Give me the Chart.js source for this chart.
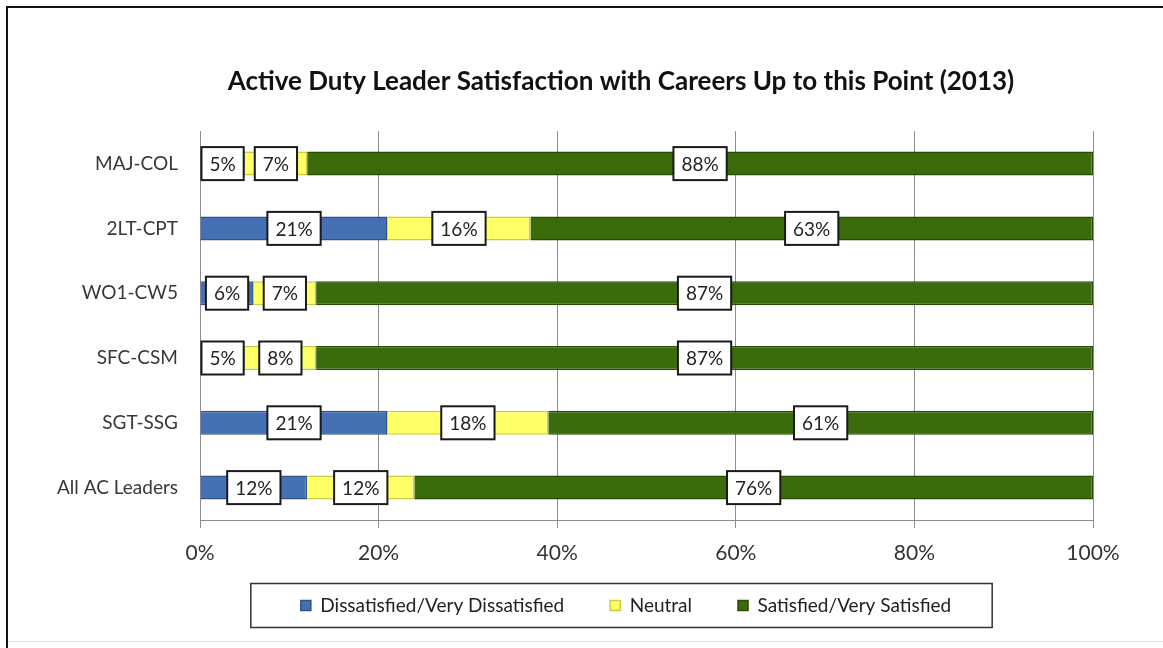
<!DOCTYPE html>
<html>
<head>
<meta charset="utf-8">
<script src="https://cdn.jsdelivr.net/npm/chart.js@4"></script>
<style>
  body { margin: 0; background: #fff; }
  #wrap { position: relative; width: 1163px; height: 648px; overflow: hidden; }
  #frame { position: absolute; left: 6px; top: 6px; width: 1300px; height: 700px;
           border-left: 2px solid #111; border-top: 2px solid #111; }
  #shadow { position: absolute; left: 8px; top: 641px; width: 1200px; height: 1px; background: #e2e2e2; }
  canvas { position: absolute; left: 0; top: 0; }
</style>
</head>
<body>
<div id="wrap">
  <div id="frame"></div>
  <div id="shadow"></div>
  <canvas id="surveyChart" width="1163" height="648"></canvas>
</div>
<script>
// categories and values (percent)
const groups = ["MAJ-COL", "2LT-CPT", "WO1-CW5", "SFC-CSM", "SGT-SSG", "All AC Leaders"];
const dissatisfied = [5, 21, 6, 5, 21, 12];
const neutral = [7, 16, 7, 8, 18, 12];
const satisfied = [88, 63, 87, 87, 61, 76];
const xTicks = [0, 20, 40, 60, 80, 100];

const FONT = "Lato, 'Open Sans', sans-serif";

// white boxes with the % value in the middle of each segment
const valueBoxes = {
  id: "valueBoxes",
  afterDatasetsDraw(chart) {
    const ctx = chart.ctx;
    ctx.save();
    ctx.font = "19px " + FONT;
    ctx.textAlign = "center";
    ctx.textBaseline = "middle";
    chart.data.datasets.forEach((ds, i) => {
      chart.getDatasetMeta(i).data.forEach((bar, j) => {
        const text = ds.data[j] + "%";
        const p = bar.getProps(["x", "y", "base"], true);
        const cx = (p.x + p.base) / 2;
        const w = ctx.measureText(text).width + 16;
        const h = 33;
        ctx.fillStyle = "#fff";
        ctx.fillRect(cx - w / 2, p.y - h / 2, w, h);
        ctx.lineWidth = 2;
        ctx.strokeStyle = "#1a1a1a";
        ctx.strokeRect(cx - w / 2, p.y - h / 2, w, h);
        ctx.fillStyle = "#222";
        ctx.fillText(text, cx, p.y + 1);
      });
    });
    ctx.restore();
  },
};

// the title and legend are centred a bit right of the page centre,
// and the legend sits a little higher than chart.js would put it
const shiftBlocks = {
  id: "shiftBlocks",
  afterLayout(chart) {
    chart.titleBlock.left = 149;
    const lg = chart.legend;
    lg.left = 159;
    const h = lg.bottom - lg.top;
    lg.top = 550;
    lg.bottom = lg.top + h;
  },
};

// frame around the legend
const legendFrame = {
  id: "legendFrame",
  afterDraw(chart) {
    const boxes = chart.legend.legendHitBoxes;
    if (!boxes || !boxes.length) return;
    const first = boxes[0];
    const last = boxes[boxes.length - 1];
    const left = first.left - 50;
    const right = last.left + last.width + 41;
    const cy = first.top + first.height / 2;
    const ctx = chart.ctx;
    ctx.save();
    ctx.lineWidth = 1.5;
    ctx.strokeStyle = "#333";
    ctx.strokeRect(left, cy - 22, right - left, 44);
    ctx.restore();
  },
};

const config = {
  type: "bar",
  data: {
    labels: groups,
    datasets: [
      {
        label: "Dissatisfied/Very Dissatisfied",
        data: dissatisfied,
        backgroundColor: "#4670b4",
        borderColor: "#2f5287",
        borderWidth: 1.5,
      },
      {
        label: "Neutral",
        data: neutral,
        backgroundColor: "#ffff66",
        borderColor: "#cccc44",
        borderWidth: 1.5,
      },
      {
        label: "Satisfied/Very Satisfied",
        data: satisfied,
        backgroundColor: "#3b6b0b",
        borderColor: "#274d04",
        borderWidth: 1.5,
      },
    ],
  },
  options: {
    indexAxis: "y",
    responsive: false,
    animation: false,
    categoryPercentage: 0.5,
    barPercentage: 0.74,
    layout: { padding: { left: 0, right: 70, top: 0, bottom: 1 } },
    scales: {
      x: {
        stacked: true,
        min: 0,
        max: 100,
        afterBuildTicks: (axis) => {
          axis.ticks = xTicks.map((v) => ({ value: v }));
        },
        ticks: {
          callback: (v) => v + "%",
          font: { family: FONT, size: 21 },
          color: "#333",
          padding: 13,
          maxRotation: 0,
        },
        grid: { color: "#8c8c8c", tickLength: 8, drawTicks: true },
        border: { color: "#8c8c8c" },
        afterFit: (axis) => { axis.height = 52; },
      },
      y: {
        stacked: true,
        ticks: {
          font: { family: FONT, size: 19 },
          color: "#383838",
          padding: 22,
        },
        grid: { display: false, drawTicks: false },
        border: { color: "#8c8c8c" },
        afterFit: (axis) => { axis.width = 200; },
      },
    },
    plugins: {
      title: {
        display: true,
        text: "Active Duty Leader Satisfaction with Careers Up to this Point (2013)",
        font: { family: FONT, size: 26, weight: "bold" },
        color: "#111",
        padding: { top: 66, bottom: 34 },
      },
      legend: {
        position: "bottom",
        labels: {
          font: { family: FONT, size: 19 },
          color: "#222",
          boxWidth: 10,
          boxHeight: 10,
          padding: 46,
        },
      },
      tooltip: { enabled: false },
    },
  },
  plugins: [valueBoxes, shiftBlocks, legendFrame],
};

document.addEventListener("DOMContentLoaded", () => {
  new Chart(document.getElementById("surveyChart"), config);
});
</script>
</body>
</html>
